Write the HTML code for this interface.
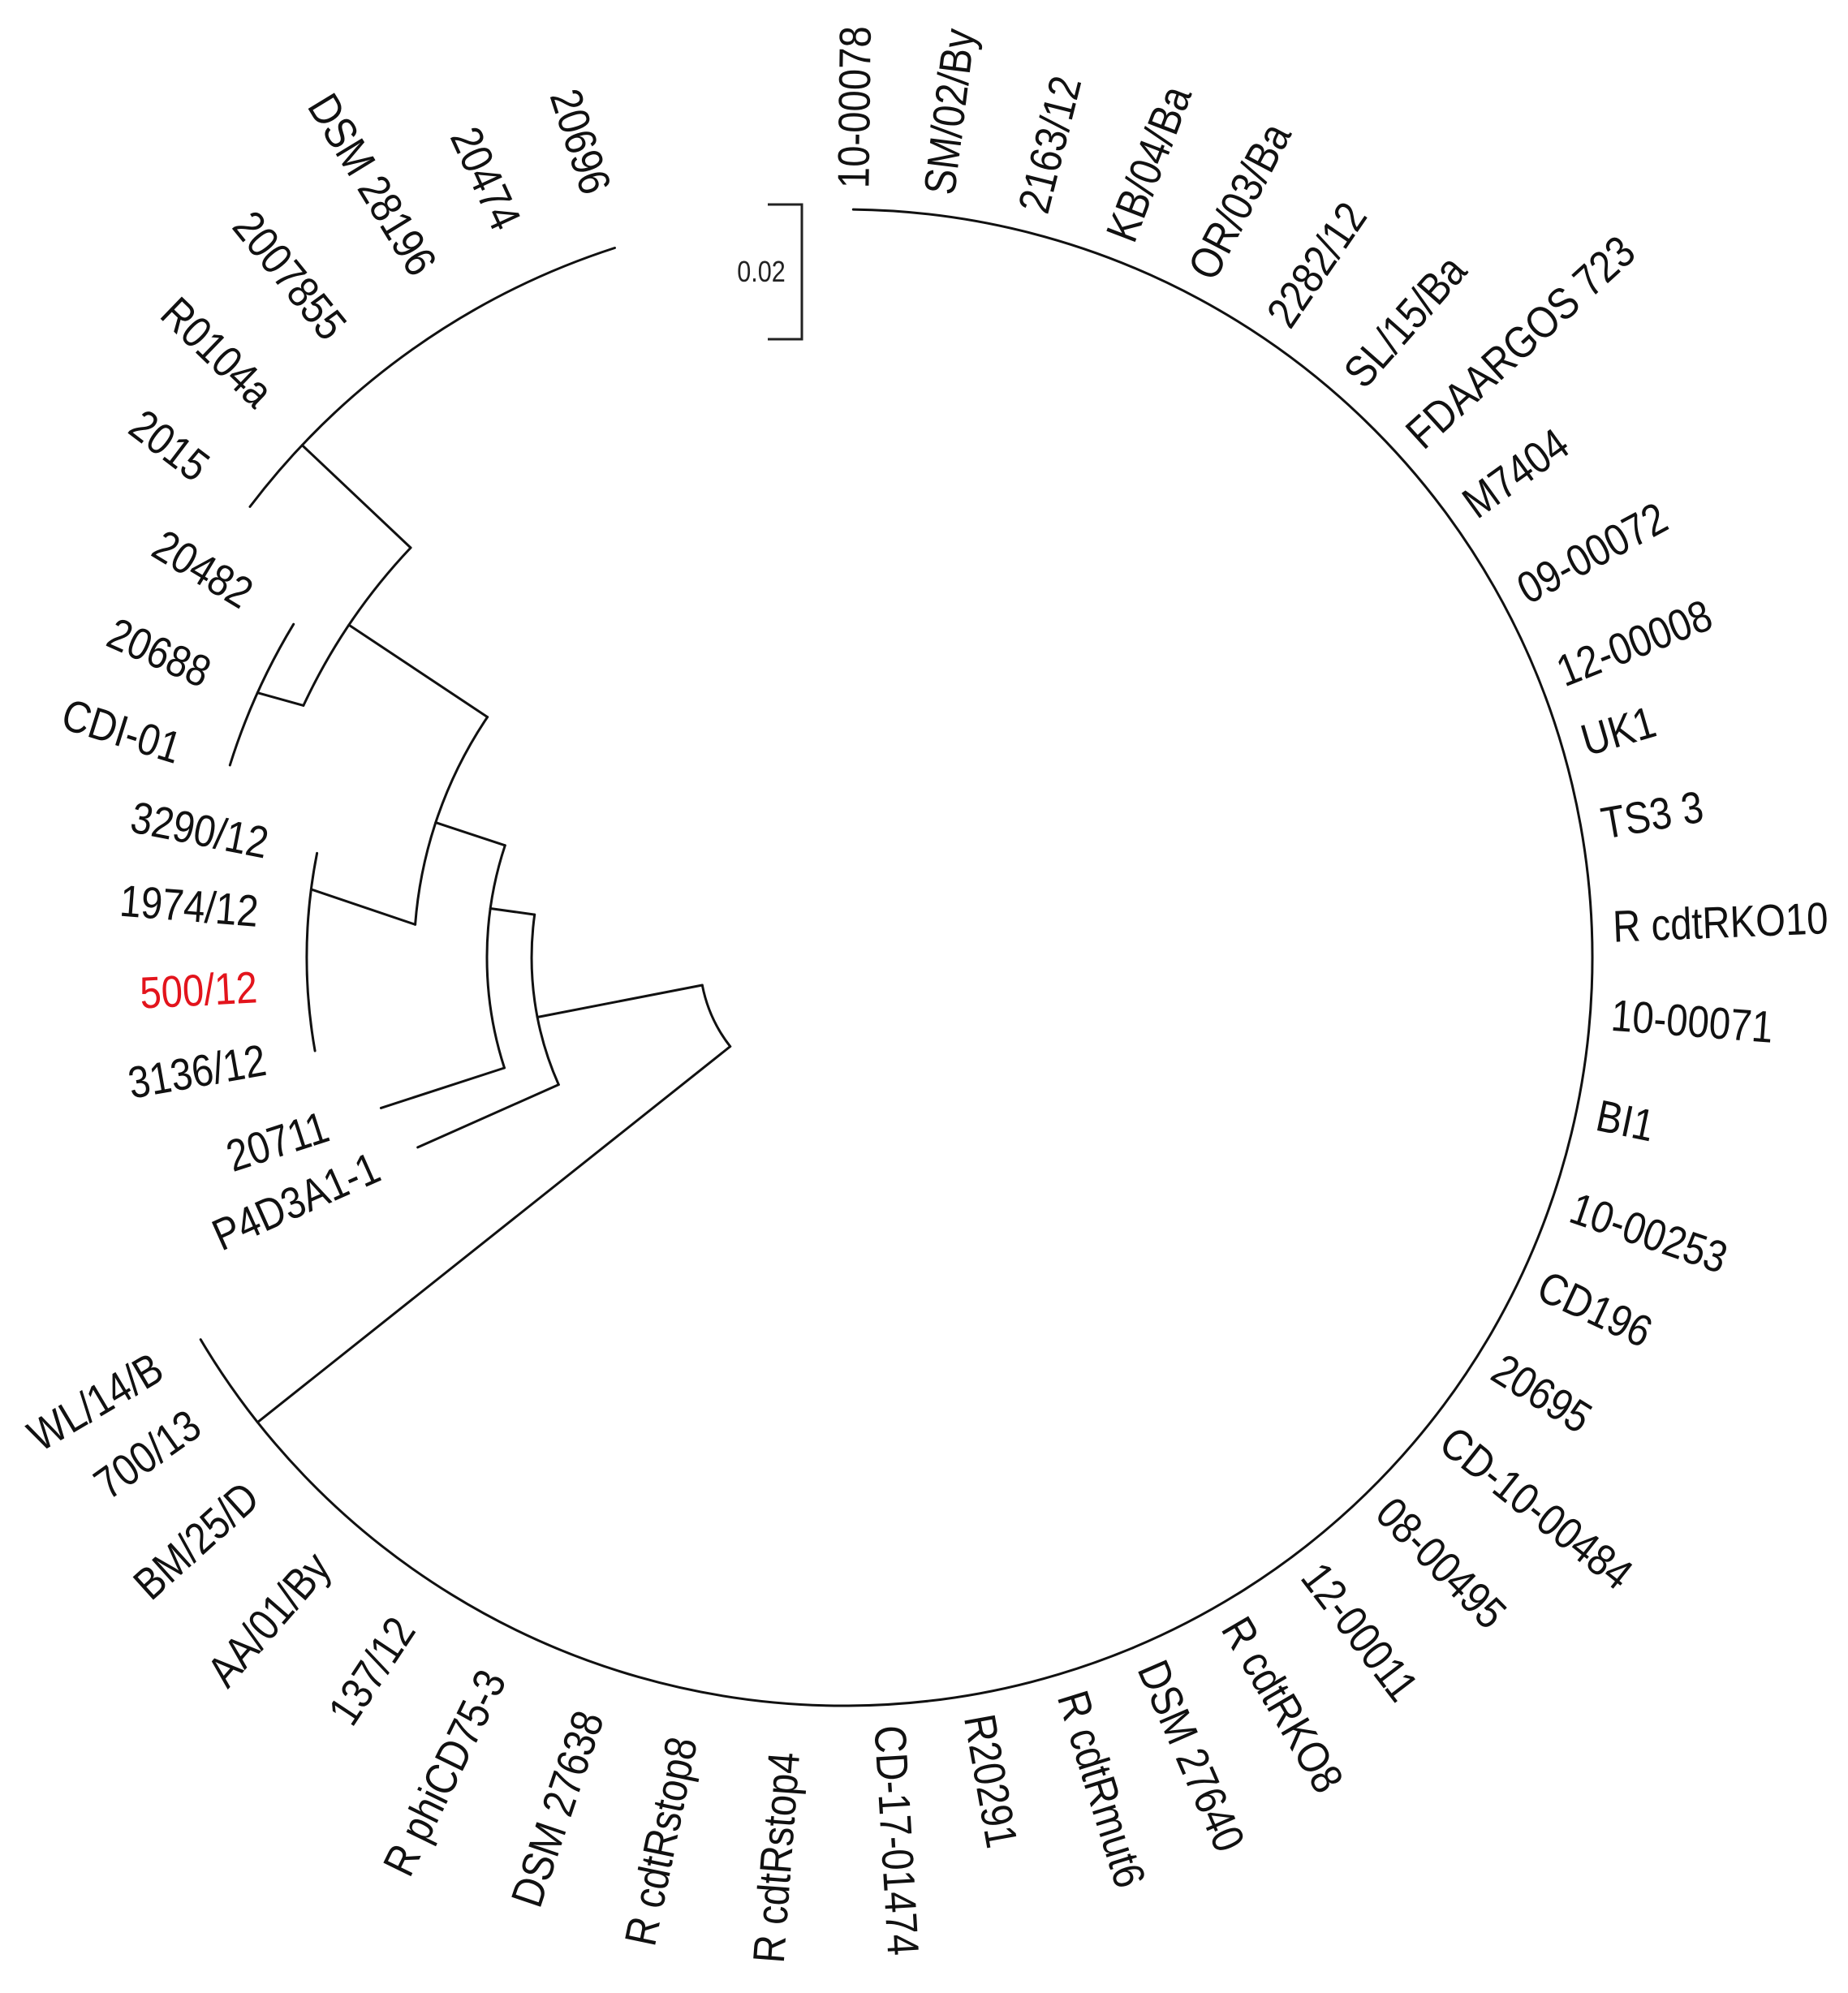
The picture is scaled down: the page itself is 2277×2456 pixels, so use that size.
<!DOCTYPE html>
<html><head><meta charset="utf-8"><style>
html,body{margin:0;padding:0;background:#fff;}
svg{display:block;}
text{font-family:"Liberation Sans",Arial,sans-serif;}
</style></head>
<body>
<svg id="tree" width="2277" height="2456" viewBox="0 0 2277 2456" xmlns="http://www.w3.org/2000/svg">
<rect width="2277" height="2456" fill="#fff"/>
<g stroke="#222" stroke-width="3" fill="none">
<path d="M946 252 H988 V418 H946"/>
</g>
<text x="938" y="347" font-size="36" text-anchor="middle" fill="#222" transform="translate(938 0) scale(0.85 1) translate(-938 0)">0.02</text>
<g id="branches" stroke="#111" stroke-width="3" fill="none" stroke-linecap="round"></g>
<g id="labels"></g>
</svg>
<script>
const CX = 1040, CY = 1180;
// internal nodes
const nodeNames = ['root','main','L1','L2','L3','G3290','L4','G20482','L5'];
const nodeParent = [-1,0,0,2,3,4,4,6,6];
const nodeRadius = [178,922,385,440,530,662,735,793,919];
const nodeAngle = [165,141.6,169,187.9,198.3,187.3,213.9,204.3,223.4];
const nodeAttach = [0,142,169,187.9,198.3,184.4,214,205,223.4];
const nodeLabelGap = [0,26,0,0,0,62,0,65,72];
// leaves
const leafNames = ['10-00078','SM/02/By','2163/12','KB/04/Ba','OR/03/Ba','2282/12','SL/15/Ba','FDAARGOS 723','M7404','09-00072','12-00008','UK1','TS3 3','R cdtRKO10','10-00071','BI1','10-00253','CD196','20695','CD-10-00484','08-00495','12-00011','R cdtRKO8','DSM 27640','R cdtRmut6','R20291','CD-17-01474','R cdtRstop4','R cdtRstop8','DSM 27638','R phiCD75-3','137/12','AA/01/By','BM/25/D','700/13','WL/14/B',
'P4D3A1-1','20711','3136/12','500/12','1974/12','3290/12','CDI-01','20688','20482','2015','R0104a','2007855','DSM 28196','20474','20696'];
const leafParent = [1,1,1,1,1,1,1,1,1,1,1,1,1,1,1,1,1,1,1,1,1,1,1,1,1,1,1,1,1,1,1,1,1,1,1,1,
2,3,5,5,5,5,7,7,7,8,8,8,8,8,8];
const leafAngle = [-89.3,-82.9,-75.8,-69,-62.4,-55.7,-48.6,-42.3,-35.8,-28.4,-21.7,-16.3,-10,-2.3,4.3,11.8,18.9,25.1,32,38.5,45.4,52.6,59.6,66.5,72.8,79.9,86.6,94.3,101.7,108.6,116.1,123.5,131,138,144.5,149.3,
156,162,170,177.1,184.5,191.2,197.4,204,211.2,217.2,224,230.9,238.6,245.3,252.1];
// leaf tip radius (null = zero-length leaf on parent arc)
const leafRadius = [null,null,null,null,null,null,null,null,null,null,null,null,null,null,null,null,null,null,null,null,null,null,null,null,null,null,null,null,null,null,null,null,null,null,null,null,
575,600,null,null,null,null,null,null,null,null,null,null,null,null,null];
const leafTipGap = [55,70];
const highlightLeaf = ['500/12'];

const NS = 'http://www.w3.org/2000/svg';
const rad = a => a*Math.PI/180;
const px = (r,a) => CX + r*Math.cos(rad(a));
const py = (r,a) => CY + r*Math.sin(rad(a));
const branches = document.getElementById('branches');
const labels = document.getElementById('labels');

function addPath(d, name){
  const p = document.createElementNS(NS,'path');
  p.setAttribute('d', d);
  
  
  branches.appendChild(p);
}
function arcD(r,a1,a2){
  const large = (a2-a1) > 180 ? 1 : 0;
  return `M${px(r,a1).toFixed(1)} ${py(r,a1).toFixed(1)} A${r} ${r} 0 ${large} 1 ${px(r,a2).toFixed(1)} ${py(r,a2).toFixed(1)}`;
}
nodeNames.forEach((n,i)=>{
  const angs = [];
  nodeParent.forEach((p,j)=>{ if(p===i) angs.push(nodeAttach[j]); });
  leafParent.forEach((p,j)=>{ if(p===i) angs.push(leafAngle[j]); });
  if(angs.length){
    addPath(arcD(nodeRadius[i], Math.min(...angs), Math.max(...angs)), 'arc-'+n);
  }
  if(nodeParent[i] >= 0){
    const pr = nodeRadius[nodeParent[i]];
    addPath(`M${px(pr,nodeAttach[i]).toFixed(1)} ${py(pr,nodeAttach[i]).toFixed(1)} L${px(nodeRadius[i],nodeAngle[i]).toFixed(1)} ${py(nodeRadius[i],nodeAngle[i]).toFixed(1)}`, 'branch-'+n);
  }
});
let tipIdx = 0;
leafNames.forEach((name,j)=>{
  const par = leafParent[j];
  const a = leafAngle[j];
  let tipR = nodeRadius[par];
  let gap = nodeLabelGap[par];
  if(leafRadius[j] !== null){
    tipR = leafRadius[j];
    gap = leafTipGap[tipIdx++] || 40;
    const pr = nodeRadius[par];
    addPath(`M${px(pr,a).toFixed(1)} ${py(pr,a).toFixed(1)} L${px(tipR,a).toFixed(1)} ${py(tipR,a).toFixed(1)}`, 'leaf-branch');
  }
  let na = ((a % 360) + 360) % 360;
  const right = (na < 90 || na > 270);
  if(par === 1 && !right) gap = 60;
  const lr = tipR + gap;
  const x = px(lr,a), y = py(lr,a);
  const t = document.createElementNS(NS,'text');
  t.textContent = name;
  
  
  t.setAttribute('font-size', '55');
  t.setAttribute('dominant-baseline', 'central');
  t.setAttribute('fill', highlightLeaf.includes(name) ? '#e3141c' : '#111');
  const rot = right ? a : a - 180;
  t.setAttribute('text-anchor', right ? 'start' : 'end');
  t.setAttribute('transform', `translate(${x.toFixed(1)} ${y.toFixed(1)}) rotate(${rot}) scale(0.86 1)`);
  labels.appendChild(t);
});
</script>
</body></html>
